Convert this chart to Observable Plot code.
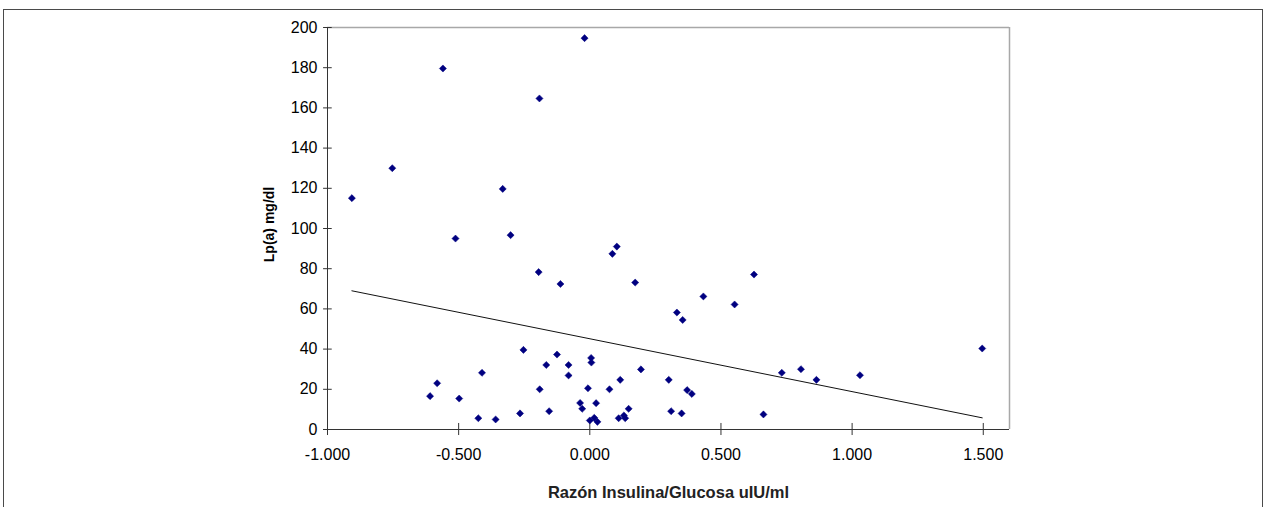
<!DOCTYPE html>
<html>
<head>
<meta charset="utf-8">
<script src="https://cdn.jsdelivr.net/npm/d3@7"></script>
<script src="https://cdn.jsdelivr.net/npm/@observablehq/plot@0.6"></script>
<style>
  html, body { margin: 0; padding: 0; background: #fff; }
  #wrap { position: relative; width: 1269px; height: 507px; overflow: hidden; }
  #frame { position: absolute; left: 3px; top: 9px; width: 1260px; height: 600px; border: 1px solid #4a4a4a; box-sizing: border-box; }
  #chart { position: absolute; left: 0; top: 0; }
</style>
</head>
<body>
<div id="wrap"><div id="frame"></div><div id="chart"></div></div>
<script>
// Razón Insulina/Glucosa (x) vs Lp(a) mg/dl (y)
const ratio = [-0.907, -0.753, -0.560, -0.512, -0.332, -0.302, -0.192, -0.020,
  -0.195, -0.112, 0.086, 0.103, 0.173,
  -0.609, -0.582, -0.498, -0.411, -0.425, -0.359, -0.266, -0.253, -0.191, -0.166, -0.155,
  -0.125, -0.081, -0.081, -0.037, -0.029, -0.007, 0.005, 0.006, 0.000, 0.017, 0.024, 0.029,
  0.075, 0.116, 0.110, 0.130, 0.135, 0.148, 0.195,
  0.433, 0.332, 0.354, 0.552, 0.626, 1.496,
  0.301, 0.371, 0.389, 0.310, 0.350, 0.662, 0.732, 0.805, 0.864, 1.030];
const lpa = [115.1, 130.0, 179.6, 95.0, 119.7, 96.7, 164.7, 194.7,
  78.3, 72.4, 87.4, 91.0, 73.1,
  16.6, 23.0, 15.4, 28.2, 5.6, 5.0, 8.0, 39.6, 20.0, 32.1, 9.1,
  37.3, 32.1, 26.9, 13.2, 10.3, 20.5, 35.6, 33.3, 4.5, 5.8, 13.1, 3.8,
  20.0, 24.7, 5.6, 7.0, 5.6, 10.3, 29.9,
  66.2, 58.2, 54.5, 62.2, 77.1, 40.3,
  24.7, 19.6, 17.7, 9.1, 8.0, 7.5, 28.2, 30.0, 24.7, 27.0];

// Trend line endpoints
const trendX = [-0.907, 1.496];
const trendY = [69.0, 5.8];

const xTicks = [-1, -0.5, 0, 0.5, 1, 1.5];
const yTicks = [0, 20, 40, 60, 80, 100, 120, 140, 160, 180, 200];
const xTitle = "Razón Insulina/Glucosa uIU/ml";
const yTitle = "Lp(a) mg/dl";

const points = ratio.map((r, i) => ({x: r, y: lpa[i]}));
const trend = trendX.map((t, i) => ({x: t, y: trendY[i]}));

const axisColor = "#333";
const borderColor = "#a8a8a8";
const font = "Arial, 'Liberation Sans', sans-serif";

const chart = Plot.plot({
  width: 1269,
  height: 507,
  marginLeft: 327,
  marginRight: 260,
  marginTop: 27,
  marginBottom: 78,
  style: {background: "transparent", fontFamily: font},
  x: {domain: [-1, 1.6]},
  y: {domain: [0, 200]},
  marks: [
    // plot-area border (top & right)
    Plot.ruleY([200], {stroke: borderColor, strokeWidth: 1.5}),
    Plot.ruleX([1.6], {stroke: borderColor, strokeWidth: 1.5}),
    // axis lines
    Plot.ruleX([-1], {stroke: axisColor}),
    Plot.ruleY([0], {x1: -1.015, x2: 1.6, stroke: axisColor}),
    // tick marks crossing the axes
    Plot.ruleX(xTicks, {y1: -3, y2: 3, stroke: axisColor}),
    Plot.ruleY(yTicks, {x1: -1.015, x2: -0.982, stroke: axisColor}),
    Plot.axisX(xTicks, {
      tickSize: 0, tickPadding: 19, fontSize: 16, fill: "#000", fontFamily: font,
      tickFormat: d => d.toFixed(3), label: null
    }),
    Plot.axisY(yTicks, {
      tickSize: 0, tickPadding: 10, fontSize: 16, fill: "#000", fontFamily: font, label: null
    }),
    Plot.line(trend, {x: "x", y: "y", stroke: "#111", strokeWidth: 1}),
    Plot.dot(points, {x: "x", y: "y", symbol: "diamond2", r: 3.2, fill: "#000080", stroke: "#000080", strokeWidth: 0.5}),
    Plot.text([xTitle], {
      frameAnchor: "bottom", dy: 63, lineAnchor: "middle", textAnchor: "middle",
      fontSize: 16.5, fontWeight: "bold", fill: "#222", fontFamily: font
    }),
    Plot.text([yTitle], {
      frameAnchor: "left", dx: -58, dy: -4, rotate: -90, lineAnchor: "middle", textAnchor: "middle",
      fontSize: 14, fontWeight: "bold", fill: "#000", fontFamily: font
    })
  ]
});
document.getElementById("chart").appendChild(chart);
</script>
</body>
</html>
